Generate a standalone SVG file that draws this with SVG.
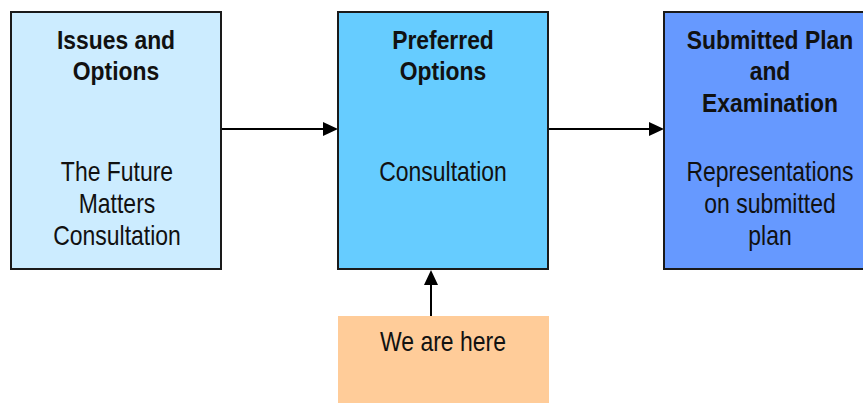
<svg xmlns="http://www.w3.org/2000/svg" width="863" height="403" viewBox="0 0 863 403">
  <style>
    .box { stroke: #1a1a1a; stroke-width: 2; }
    .t { font-family: "Liberation Sans", Arial, sans-serif; font-size: 28px; fill: #111; text-anchor: middle; }
    .b { font-weight: bold; font-size: 26px; }
    .link { stroke: #000; stroke-width: 2; fill: none; }
    .head { fill: #000; }
  </style>
  <rect width="863" height="403" fill="#fff"/>

  <g id="connectors">
    <line class="link" x1="221" y1="129" x2="324" y2="129"/>
    <path class="head" d="M323,122 L338,129 L323,136 Z"/>
    <line class="link" x1="548" y1="129" x2="650" y2="129"/>
    <path class="head" d="M649,122 L664,129 L649,136 Z"/>
    <line class="link" x1="431" y1="316" x2="431" y2="284"/>
    <path class="head" d="M424,285 L431,270 L438,285 Z"/>
  </g>

  <!-- condensed lettering: regular text squeezed to 0.82, bold to 0.88 -->
  <g id="issues-options">
    <rect class="box" x="11" y="12" width="210" height="257" fill="#CCECFF"/>
    <text class="t b" transform="matrix(0.88 0 0 1 116 49)">Issues and</text>
    <text class="t b" transform="matrix(0.88 0 0 1 116 80)">Options</text>
    <text class="t" transform="matrix(0.82 0 0 1 117 181)">The Future</text>
    <text class="t" transform="matrix(0.82 0 0 1 117 213)">Matters</text>
    <text class="t" transform="matrix(0.82 0 0 1 117 245)">Consultation</text>
  </g>

  <g id="preferred-options">
    <rect class="box" x="338" y="12" width="210" height="257" fill="#66CCFF"/>
    <text class="t b" transform="matrix(0.88 0 0 1 443 49)">Preferred</text>
    <text class="t b" transform="matrix(0.88 0 0 1 443 80)">Options</text>
    <text class="t" transform="matrix(0.82 0 0 1 443 181)">Consultation</text>
  </g>

  <g id="submitted-plan">
    <rect class="box" x="664" y="12" width="210" height="257" fill="#6699FF"/>
    <text class="t b" transform="matrix(0.88 0 0 1 770 49)">Submitted Plan</text>
    <text class="t b" transform="matrix(0.88 0 0 1 770 80)">and</text>
    <text class="t b" transform="matrix(0.88 0 0 1 770 112)">Examination</text>
    <text class="t" transform="matrix(0.82 0 0 1 770 181)">Representations</text>
    <text class="t" transform="matrix(0.82 0 0 1 770 213)">on submitted</text>
    <text class="t" transform="matrix(0.82 0 0 1 770 245)">plan</text>
  </g>

  <g id="we-are-here">
    <rect x="338" y="316" width="211" height="87" fill="#FFCC99"/>
    <text class="t" transform="matrix(0.82 0 0 1 443 351)">We are here</text>
  </g>
</svg>
